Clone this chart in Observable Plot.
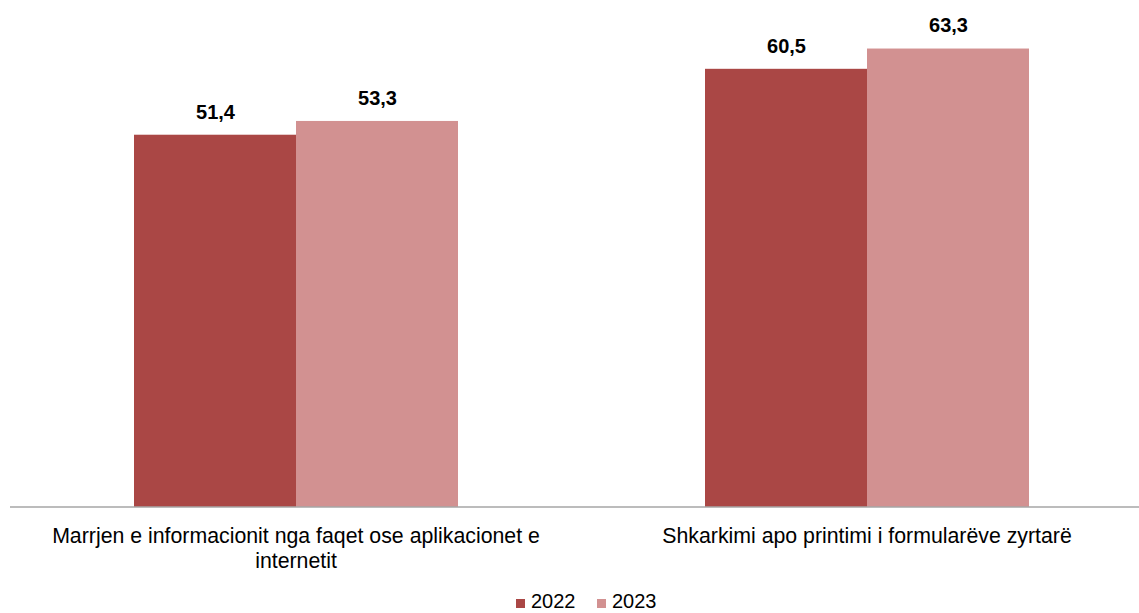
<!DOCTYPE html>
<html>
<head>
<meta charset="utf-8">
<script src="https://cdn.jsdelivr.net/npm/d3@7"></script>
<script src="https://cdn.jsdelivr.net/npm/@observablehq/plot@0.6"></script>
<style>
  html, body { margin: 0; padding: 0; background: #fff; }
  body { width: 1139px; height: 613px; overflow: hidden; font-family: "Liberation Sans", Arial, sans-serif; }
  #legend { position: relative; height: 23px; font-size: 20px; color: #000; }
  #legend .item { position: absolute; top: 0; display: flex; align-items: center; }
  #legend .sw { width: 9px; height: 9px; margin-right: 6px; margin-top: 3px; }
</style>
</head>
<body>
<div id="chart"></div>
<div id="legend"></div>
<script>
const categories = [
  "Marrjen e informacionit nga faqet ose aplikacionet e internetit",
  "Shkarkimi apo printimi i formularëve zyrtarë"
];
const tickLabels = [
  "Marrjen e informacionit nga faqet ose aplikacionet e\ninternetit",
  "Shkarkimi apo printimi i formularëve zyrtarë"
];
const years = ["2022", "2023"];
const values2022 = [51.4, 60.5];
const values2023 = [53.3, 63.3];
const colors = ["#AA4745", "#D29191"];

const seriesValues = [values2022, values2023];
const data = [];
categories.forEach((c, i) => {
  years.forEach((y, j) => data.push({category: c, year: y, value: seriesValues[j][i]}));
});

const fmt = d3.formatLocale({decimal: ",", thousands: ".", grouping: [3], currency: ["", ""]}).format(".1f");

const W = 1139, ML = 10, MR = 0;
const plot = Plot.plot({
  width: W,
  height: 590,
  marginTop: 0,
  marginBottom: 83,
  marginLeft: ML,
  marginRight: MR,
  style: {fontFamily: "'Liberation Sans', Arial, sans-serif", color: "#000", background: "#fff"},
  fx: {domain: categories, range: [10, 1153], paddingInner: 0.43, paddingOuter: 0.215, label: null},
  x: {domain: years, padding: 0, axis: null},
  y: {domain: [0, 70], axis: null},
  color: {domain: years, range: colors},
  marks: [
    Plot.barY(data, {fx: "category", x: "year", y: "value", fill: "year"}),
    Plot.text(data, {fx: "category", x: "year", y: "value", text: d => fmt(d.value),
      fontWeight: "bold", fontSize: 20, dy: -23, fill: "#000"}),
    Plot.axisFx({anchor: "bottom", tickSize: 0, tickPadding: 17, fontSize: 21.3, lineHeight: 1.2,
      tickFormat: d => tickLabels[categories.indexOf(d)], label: null, fill: "#000"})
  ]
});
document.getElementById("chart").appendChild(plot);

// category axis baseline across the full plot width, placed with the y scale
const y0 = plot.scale("y").apply(0);
d3.select(plot).append("line")
  .attr("x1", ML).attr("x2", W - MR)
  .attr("y1", y0).attr("y2", y0)
  .attr("stroke", "#A6A6A6").attr("stroke-width", 1.5);

const legend = d3.select("#legend");
const starts = [516, 597];
years.forEach((y, j) => {
  const item = legend.append("div").attr("class", "item").style("left", starts[j] + "px");
  item.append("div").attr("class", "sw").style("background", colors[j]);
  item.append("span").text(y);
});
</script>
</body>
</html>
